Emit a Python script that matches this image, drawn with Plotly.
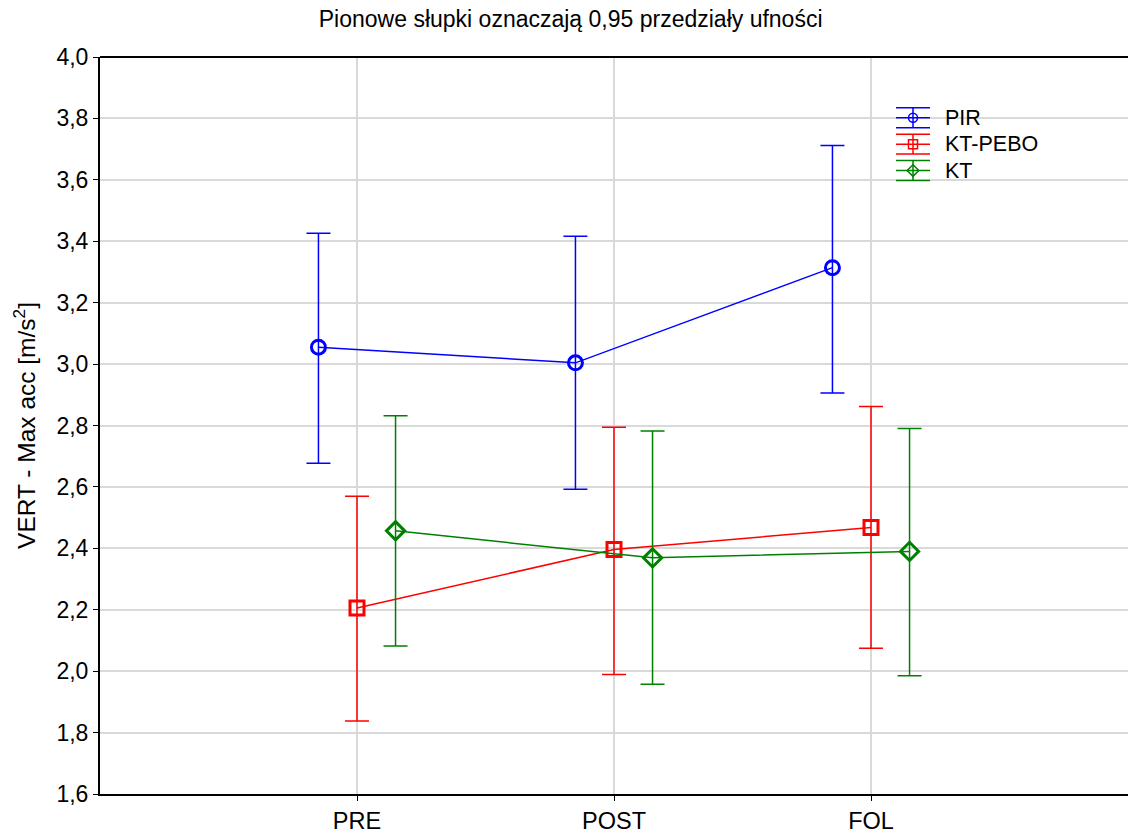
import plotly.graph_objects as go

# Measurement occasions
categories = ["PRE", "POST", "FOL"]

# Group means with upper / lower 0.95 confidence limits
pir_mean = [3.055, 3.004, 3.314]
pir_upper = [3.426, 3.416, 3.712]
pir_lower = [2.677, 2.592, 2.906]

ktpebo_mean = [2.206, 2.396, 2.468]
ktpebo_upper = [2.570, 2.794, 2.862]
ktpebo_lower = [1.838, 1.989, 2.075]

kt_mean = [2.457, 2.369, 2.390]
kt_upper = [2.832, 2.782, 2.790]
kt_lower = [2.082, 1.957, 1.985]

y_ticks = [1.6, 1.8, 2.0, 2.2, 2.4, 2.6, 2.8, 3.0, 3.2, 3.4, 3.6, 3.8, 4.0]

groups = [
    ("PIR", pir_mean, pir_upper, pir_lower, "#0000ff", "circle-open", -0.15),
    ("KT-PEBO", ktpebo_mean, ktpebo_upper, ktpebo_lower, "#ff0000", "square-open", 0.0),
    ("KT", kt_mean, kt_upper, kt_lower, "#008000", "diamond-open", 0.15),
]

W, H = 1130, 836
ML, MR, MT, MB = 100, 2, 57, 39
font_family = "Liberation Sans, Arial, sans-serif"

fig = go.Figure()
for name, mean, upper, lower, color, symbol, shift in groups:
    xs = [i + shift for i in range(len(categories))]
    fig.add_trace(go.Scatter(
        x=xs,
        y=mean,
        name=name,
        mode="lines+markers",
        showlegend=False,
        line=dict(color=color, width=1.5),
        marker=dict(symbol=symbol, size=14, color=color, line=dict(width=3, color=color)),
        error_y=dict(
            type="data",
            symmetric=False,
            array=[u - m for u, m in zip(upper, mean)],
            arrayminus=[m - l for m, l in zip(mean, lower)],
            color=color,
            thickness=1.5,
            width=12,
        ),
    ))

# Legend key: an overlay axis measured in page pixels, each key drawn as a
# small marker with cross-bars, the way the series' error bars look
key_x = 913
key_rows = [118, 144.5, 171]
for (name, _m, _u, _l, color, symbol, _s), ky in zip(groups, key_rows):
    fig.add_trace(go.Scatter(
        x=[key_x], y=[ky],
        xaxis="x2", yaxis="y2",
        mode="markers",
        showlegend=False,
        hoverinfo="skip",
        marker=dict(symbol=symbol, size=9, color=color, line=dict(width=1.5, color=color)),
        error_y=dict(type="constant", value=10, color=color, thickness=1.5, width=17),
        error_x=dict(type="constant", value=17, color=color, thickness=1.5, width=0),
    ))
    fig.add_annotation(
        x=key_x + 30, y=ky, xref="x2", yref="y2",
        text=name, showarrow=False, xanchor="left", yanchor="middle",
        font=dict(size=21.5, family=font_family, color="black"),
    )

fig.update_layout(
    width=W,
    height=H,
    margin=dict(l=ML, r=MR, t=MT, b=MB),
    paper_bgcolor="white",
    plot_bgcolor="white",
    separators=", ",
    showlegend=False,
    font=dict(family=font_family, color="black", size=23.5),
    title=dict(
        text="Pionowe słupki oznaczają 0,95 przedziały ufności",
        x=0.505, xanchor="center", xref="container",
        y=1 - 19 / H, yanchor="middle",
        font=dict(size=23, family=font_family, color="black"),
    ),
    xaxis=dict(
        range=[-1, 3],
        tickvals=list(range(len(categories))),
        ticktext=categories,
        showgrid=True,
        gridcolor="#d9d9d9",
        gridwidth=2,
        zeroline=False,
        showline=True,
        linecolor="black",
        linewidth=2,
        ticks="outside",
        ticklen=5,
        tickcolor="black",
        tickfont=dict(size=23.5),
    ),
    yaxis=dict(
        range=[1.6, 4.0],
        tickvals=y_ticks,
        tickformat=".1f",
        showgrid=True,
        gridcolor="#d9d9d9",
        gridwidth=2,
        zeroline=False,
        showline=True,
        linecolor="black",
        linewidth=2,
        ticks="outside",
        ticklen=5,
        tickcolor="black",
        tickfont=dict(size=23),
        title=dict(text="VERT - Max acc [m/s<sup>2</sup>]", font=dict(size=24.5), standoff=14),
    ),
    xaxis2=dict(overlaying="x", range=[ML, W - MR], visible=False, fixedrange=True),
    yaxis2=dict(overlaying="y", range=[H - MB, MT], visible=False, fixedrange=True),
)

# Top frame line of the plotting area
fig.add_shape(type="line", xref="paper", yref="paper", x0=0, x1=1, y0=1, y1=1,
              line=dict(color="black", width=2))

fig.write_html("out.html")
